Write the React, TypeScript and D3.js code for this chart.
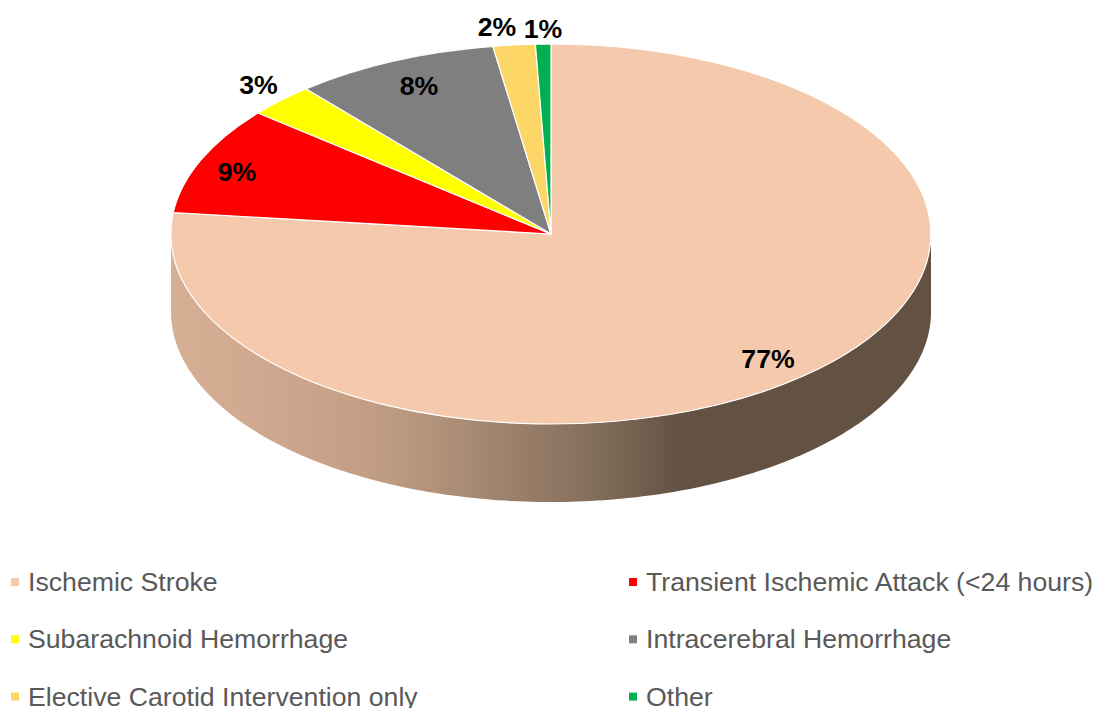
import React from "react";
import * as d3 from "d3";

const categories = [
  "Ischemic Stroke",
  "Transient Ischemic Attack (<24 hours)",
  "Subarachnoid Hemorrhage",
  "Intracerebral Hemorrhage",
  "Elective Carotid Intervention only",
  "Other",
];
const values = [76.8, 9.2, 2.85, 8.7, 1.8, 0.65];
const percentLabels = ["77%", "9%", "3%", "8%", "2%", "1%"];
const colors = ["#F4C9AC", "#FF0000", "#FFFF00", "#7F7F7F", "#FCD666", "#00B050"];
const labelPositions: [number, number][] = [
  [768, 358.5],
  [237, 171.5],
  [258.5, 84.5],
  [419, 85.5],
  [497, 26.5],
  [543, 28.5],
];

const W = 1097;
const H = 708;
const cx = 551;
const cy = 234;
const rx = 380;
const ry = 190;
const depth = 78;

export default function App() {
  const pie = d3.pie<number>().sort(null).value((d) => d)(values);
  const arc = d3.arc<d3.PieArcDatum<number>>().innerRadius(0).outerRadius(1);

  const sweep = d3.range(-90, 90.5, 1).map((d) => (d * Math.PI) / 180);
  const xAt = d3.scaleLinear().domain([-1, 1]).range([cx - rx, cx + rx]);
  const yAt = d3.scaleLinear().domain([-1, 1]).range([cy - ry, cy + ry]);
  const front = sweep.map((a) => [xAt(Math.sin(a)), yAt(Math.cos(a))] as [number, number]);
  const back = [...front].reverse().map(([x, y]) => [x, y + depth] as [number, number]);
  const wall = d3.line()([...front, ...back]) + "Z";

  return (
    <svg
      width={W}
      height={H}
      viewBox={`0 0 ${W} ${H}`}
      style={{ position: "absolute", left: 0, top: 0, fontFamily: "'Liberation Sans', Arial, sans-serif" }}
    >
      <defs>
        <linearGradient id="wall" gradientUnits="userSpaceOnUse" x1={cx - rx} x2={cx + rx} y1={0} y2={0}>
          <stop offset="0" stopColor="#D6AF94" />
          <stop offset="0.15" stopColor="#CDA78D" />
          <stop offset="0.3" stopColor="#BC9A80" />
          <stop offset="0.45" stopColor="#9C806B" />
          <stop offset="0.55" stopColor="#84705D" />
          <stop offset="0.67" stopColor="#635142" />
          <stop offset="1" stopColor="#635142" />
        </linearGradient>
      </defs>
      <rect width={W} height={H} fill="#FFFFFF" />
      <path d={wall} fill="url(#wall)" />
      <g transform={`translate(${cx},${cy}) scale(${rx},${ry})`}>
        {pie.map((d, i) => (
          <path
            key={categories[i]}
            d={arc(d) ?? ""}
            fill={colors[i]}
            stroke="#FFFFFF"
            strokeWidth={1.2}
            vectorEffect="non-scaling-stroke"
          />
        ))}
      </g>
      {percentLabels.map((t, i) => (
        <text
          key={t}
          x={labelPositions[i][0]}
          y={labelPositions[i][1]}
          textAnchor="middle"
          dominantBaseline="central"
          fontSize={26.67}
          fontWeight={700}
          fill="#000000"
        >
          {t}
        </text>
      ))}
      {categories.map((c, i) => {
        const col = i % 2;
        const row = Math.floor(i / 2);
        const mx = col === 0 ? 11 : 629;
        const my = 582 + row * 57.3;
        return (
          <g key={c}>
            <rect x={mx} y={my - 4} width={8} height={8} fill={colors[i]} />
            <text x={mx + 17} y={my + 9} fontSize={26.67} fill="#595959">
              {c}
            </text>
          </g>
        );
      })}
    </svg>
  );
}
